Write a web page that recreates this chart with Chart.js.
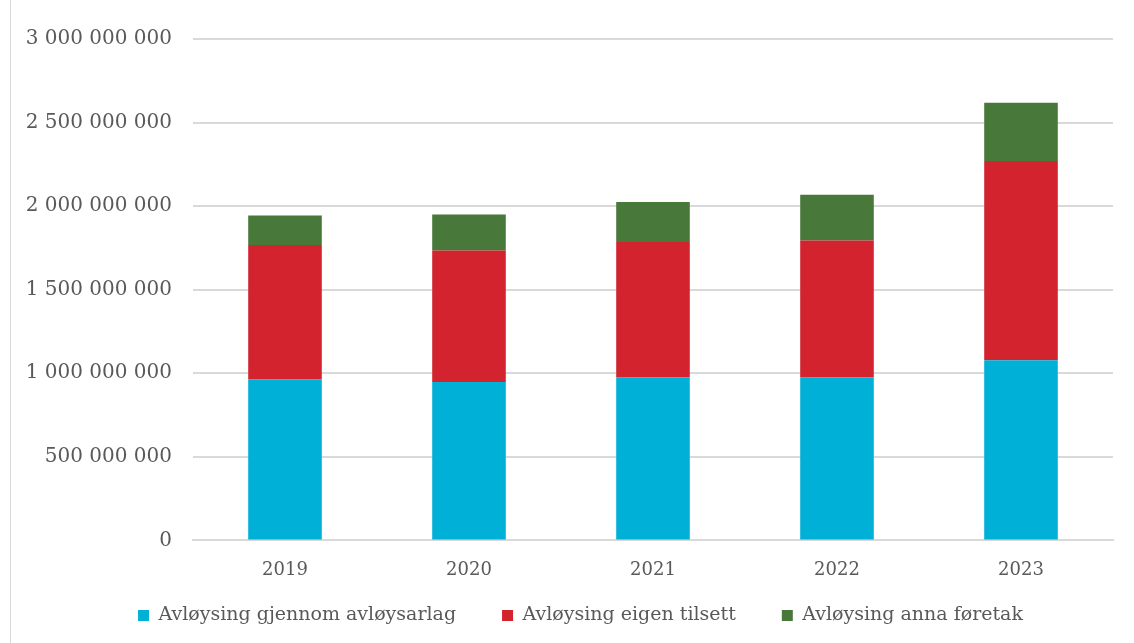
<!DOCTYPE html>
<html>
<head>
<meta charset="utf-8">
<script src="https://cdn.jsdelivr.net/npm/chart.js@4"></script>
<style>
  html, body { margin: 0; padding: 0; background: #fff; }
  #wrap { position: relative; width: 1134px; height: 643px; }
  #frame { position: absolute; left: 10px; top: 0; bottom: 0; border-left: 1px solid #d9d9d9; }
</style>
</head>
<body>
<div id="wrap">
  <div id="frame"></div>
  <canvas id="chart" width="1134" height="643"></canvas>
</div>
<script>
const years = ['2019', '2020', '2021', '2022', '2023'];
const avlaglag = [964000000, 948000000, 974000000, 976000000, 1078000000];
const eigenTilsett = [804000000, 786000000, 812000000, 818000000, 1192000000];
const annaForetak = [176000000, 216000000, 238000000, 274000000, 348000000];

const textColor = '#595959';
const fontFamily = '"DejaVu Serif", "Liberation Serif", serif';

const fmt = (v) => String(v).replace(/\B(?=(\d{3})+(?!\d))/g, ' ');

// legend: wide gaps between items but less air above it,
// and sitting a bit right of the canvas centre like the original
const LEGEND_TRIM = 40;
const tweakLegend = {
  id: 'tweakLegend',
  afterInit(chart) {
    const lg = chart.legend;
    if (!lg) return;
    const fit = lg.fit;
    lg.fit = function () {
      fit.call(this);
      this.height -= LEGEND_TRIM;
    };
  },
  afterLayout(chart) {
    const lg = chart.legend;
    if (!lg) return;
    lg.top -= LEGEND_TRIM;
    lg.height += LEGEND_TRIM;
    lg.left += 19;
    lg.right += 19;
  }
};

const ctx = document.getElementById('chart').getContext('2d');
new Chart(ctx, {
  type: 'bar',
  data: {
    labels: years,
    datasets: [
      { label: 'Avløysing gjennom avløysarlag', data: avlaglag, backgroundColor: 'rgb(0, 176, 214)' },
      { label: 'Avløysing eigen tilsett', data: eigenTilsett, backgroundColor: 'rgb(211, 35, 46)' },
      { label: 'Avløysing anna føretak', data: annaForetak, backgroundColor: 'rgb(73, 121, 58)' },
    ]
  },
  options: {
    responsive: false,
    animation: false,
    devicePixelRatio: 1,
    layout: { padding: { left: 10, right: 21, top: 39, bottom: 8 } },
    datasets: { bar: { barPercentage: 0.4, categoryPercentage: 1 } },
    scales: {
      x: {
        stacked: true,
        grid: { display: false, drawTicks: false },
        border: { color: '#d9d9d9', width: 2 },
        ticks: { color: textColor, font: { family: fontFamily, size: 18 }, padding: 19 },
      },
      y: {
        stacked: true,
        min: 0,
        max: 3000000000,
        afterFit: (s) => { s.width = 183; },
        grid: { color: '#d9d9d9', lineWidth: 2, drawTicks: false },
        border: { display: false },
        ticks: {
          stepSize: 500000000,
          color: textColor,
          padding: 21,
          font: { family: fontFamily, size: 20 },
          callback: (v) => fmt(v),
        },
      },
    },
    plugins: {
      legend: {
        position: 'bottom',
        labels: {
          color: textColor,
          boxWidth: 11,
          boxHeight: 11,
          padding: 46,
          font: { family: fontFamily, size: 19 },
        },
      },
      tooltip: { enabled: false },
    },
  },
  plugins: [tweakLegend],
});
</script>
</body>
</html>
